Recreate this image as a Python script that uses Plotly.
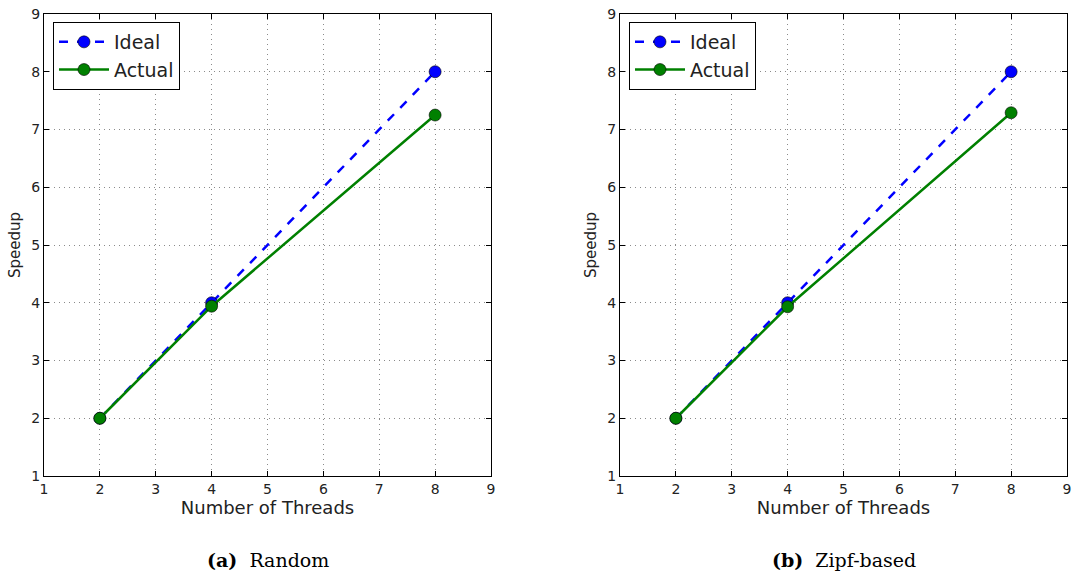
import plotly.graph_objects as go

threads = [2, 4, 8]
ideal = [2, 4, 8]
actual_random = [2.0, 3.94, 7.25]
actual_zipf = [2.0, 3.93, 7.29]
captions = [("(a)", "Random"), ("(b)", "Zipf-based")]
tick_vals = list(range(1, 10))

W, H = 1072, 574
TOP, BOTTOM = 14, 476  # pixel rows of plot area

fig = go.Figure()

panels = [
    ("x", "y", "legend", actual_random, [44 / W, 491 / W]),
    ("x2", "y2", "legend2", actual_zipf, [620 / W, 1067 / W]),
]

for xa, ya, lg, actual, dom in panels:
    fig.add_trace(go.Scatter(
        x=threads, y=ideal, mode="lines+markers", name="Ideal",
        line=dict(color="#0000ff", width=2.5, dash="dash"),
        marker=dict(size=12, color="#0000ff", line=dict(color="#000000", width=0.6)),
        xaxis=xa, yaxis=ya, legend=lg,
    ))
    fig.add_trace(go.Scatter(
        x=threads, y=actual, mode="lines+markers", name="Actual",
        line=dict(color="#008000", width=2.5),
        marker=dict(size=12, color="#008000", line=dict(color="#000000", width=0.6)),
        xaxis=xa, yaxis=ya, legend=lg,
    ))

axis_common = dict(
    range=[1, 9], tickvals=tick_vals, showgrid=True, gridcolor="#8a8a8a",
    griddash="1px,4px", gridwidth=1, showline=True, linecolor="#000000", linewidth=1.2,
    mirror="allticks", ticks="inside", ticklen=5, tickcolor="#000000",
    tickfont=dict(family="DejaVu Sans", size=14, color="#222222"), zeroline=False,
    automargin=False,
)
xtitle = dict(text="Number of Threads", font=dict(family="DejaVu Sans", size=18, color="#222222"), standoff=4)
ytitle = dict(text="Speedup", font=dict(family="DejaVu Sans", size=15, color="#222222"), standoff=6)

legend_common = dict(
    yanchor="top", xanchor="left", bgcolor="white", bordercolor="#000000", borderwidth=1,
    font=dict(family="DejaVu Sans", size=19, color="#222222"), itemwidth=50, tracegroupgap=0,
    yref="paper", xref="paper",
)
ly = (BOTTOM - 22) / (BOTTOM - TOP)

fig.update_layout(
    width=W, height=H, margin=dict(l=0, r=0, t=TOP, b=H - BOTTOM, autoexpand=False),
    paper_bgcolor="white", plot_bgcolor="white", showlegend=True,
    xaxis=dict(axis_common, domain=panels[0][4], anchor="y", title=xtitle),
    yaxis=dict(axis_common, domain=[0, 1], anchor="x", title=ytitle),
    xaxis2=dict(axis_common, domain=panels[1][4], anchor="y2", title=xtitle),
    yaxis2=dict(axis_common, domain=[0, 1], anchor="x2", title=ytitle),
    legend=dict(legend_common, x=53 / W, y=ly),
    legend2=dict(legend_common, x=629 / W, y=ly),
)

centers = [(d[0] + d[1]) / 2 for d in (panels[0][4], panels[1][4])]
for (lab, txt), cx in zip(captions, centers):
    fig.add_annotation(
        x=cx, y=(BOTTOM - 560) / (BOTTOM - TOP), xref="paper", yref="paper", showarrow=False,
        text=f"<b>{lab}</b>  {txt}", xanchor="center", yanchor="middle",
        font=dict(family="DejaVu Serif", size=19, color="#000000"),
    )

fig.write_html("out.html")
